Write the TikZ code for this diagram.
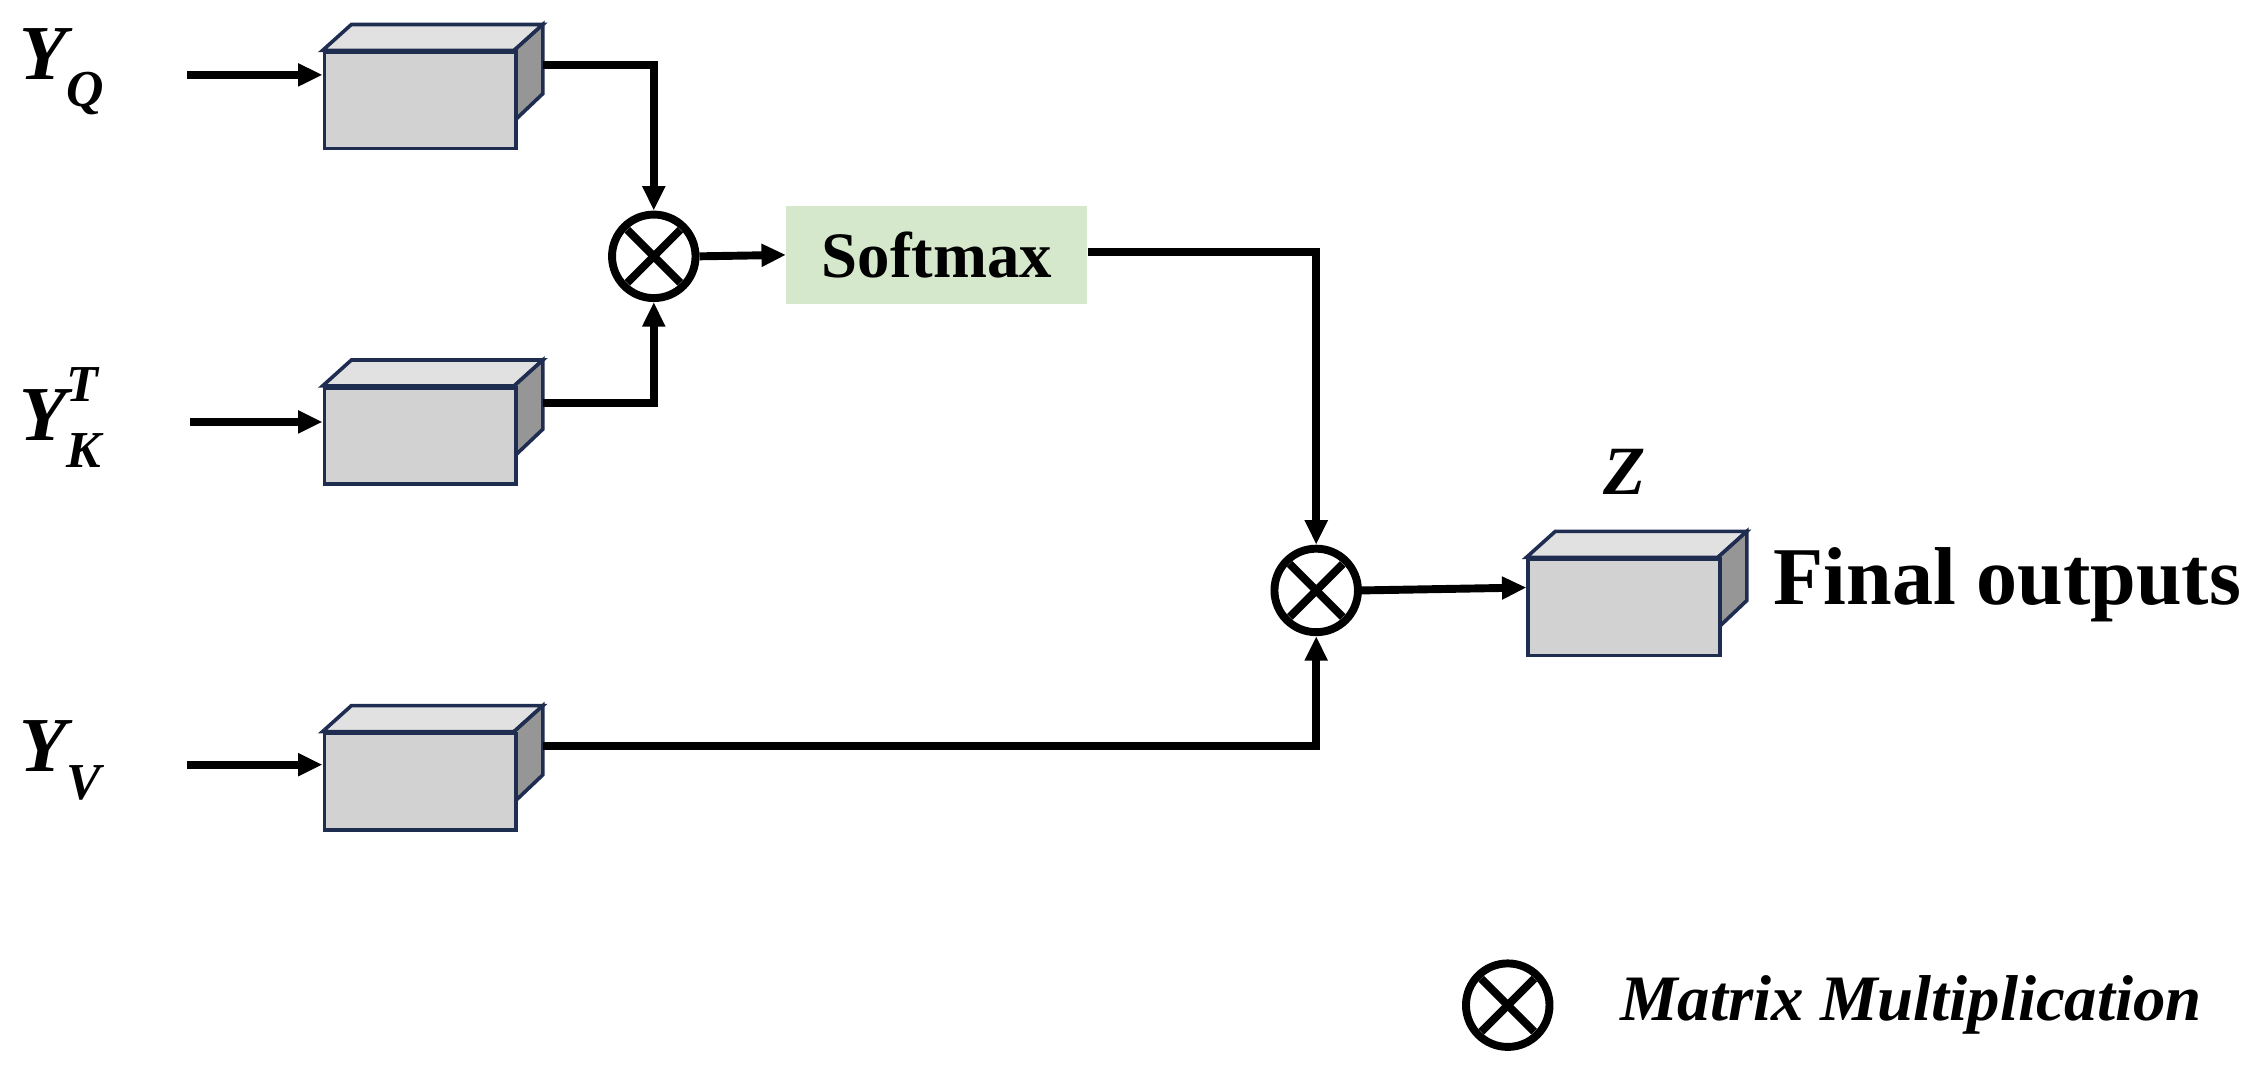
\documentclass[tikz,border=0pt]{standalone}
\usepackage{fontspec}
\setmainfont{Liberation Serif}
\usetikzlibrary{arrows.meta}
\begin{document}
\begin{tikzpicture}[x=1pt,y=-1pt,
  conn/.style={line width=5.5pt,-{Triangle[length=17pt,width=15pt]}},
  mul/.style={circle,draw,line width=5.5pt,minimum size=58pt,inner sep=0pt},
  lbl/.style={font=\fontsize{54}{58}\selectfont\bfseries\itshape}]
\useasboundingbox (0,0) rectangle (1568,745);
\newcommand{\cube}[3]{% name, x, y (front top-left)
  \filldraw[draw={rgb,255:red,31;green,45;blue,80},line width=2.5pt,fill={rgb,255:red,225;green,225;blue,225}]
    (#2,#3) -- ++(20,-18) -- ++(133,0) -- ++(-20,18) -- cycle;
  \filldraw[draw={rgb,255:red,31;green,45;blue,80},line width=2.5pt,fill={rgb,255:red,150;green,150;blue,150}]
    (#2+133,#3) -- ++(20,-18) -- ++(0,48) -- ++(-20,19) -- cycle;
  \node[draw={rgb,255:red,31;green,45;blue,80},line width=2.5pt,fill={rgb,255:red,210;green,210;blue,210},
    minimum width=133pt,minimum height=67pt,inner sep=0pt,anchor=north west] (#1) at (#2,#3) {};}
\newcommand{\crossin}[1]{%
  \draw[line width=5.5pt] ([shift={(45:26)}]#1.center) -- ([shift={(225:26)}]#1.center);
  \draw[line width=5.5pt] ([shift={(135:26)}]#1.center) -- ([shift={(315:26)}]#1.center);}
\cube{b1}{224}{35}
\cube{b2}{224}{268}
\cube{b3}{224}{508}
\cube{bz}{1060}{387}
\node[mul] (m1) at (454,178) {};
\node[mul] (m2) at (914,410) {};
\node[mul] (m3) at (1047,698) {};
\begin{scope}
\clip (m1) circle (27); \crossin{m1}
\end{scope}
\begin{scope}
\clip (m2) circle (27); \crossin{m2}
\end{scope}
\begin{scope}
\clip (m3) circle (27); \crossin{m3}
\end{scope}
\node[fill={rgb,255:red,213;green,232;blue,204},minimum width=209pt,minimum height=68pt,
  font=\fontsize{45}{48}\selectfont\bfseries] (sm) at (650.5,177) {Softmax};
\coordinate (i1) at (130,52); \coordinate (i2) at (132,293); \coordinate (i3) at (130,531);
\draw[conn] (i1) -- (b1.west|-i1);
\draw[conn] (i2) -- (b2.west|-i2);
\draw[conn] (i3) -- (b3.west|-i3);
\draw[conn] (377,45) -| (m1.north);
\draw[conn] (377,280) -| (m1.south);
\draw[conn] (m1.east) -- (sm.west);
\draw[conn] (sm.east|-0,175) -| (m2.north);
\draw[conn] (377,518) -| (m2.south);
\draw[conn] (m2.east) -- (bz.west|-0,408);
\node[lbl,anchor=west] (yq) at (10,50) {Y\raisebox{-0.35em}{\fontsize{36}{38}\selectfont Q}};
\node[lbl,anchor=west] (yk) at (10,290) {Y\rlap{\raisebox{-0.35em}{\fontsize{36}{38}\selectfont K}}\raisebox{0.5em}{\fontsize{36}{38}\selectfont T}};
\node[lbl,anchor=west] (yv) at (10,528) {Y\raisebox{-0.35em}{\fontsize{36}{38}\selectfont V}};
\node[font=\fontsize{48}{52}\selectfont\bfseries\itshape] (z) at (1128,328) {Z};
\node[font=\fontsize{57}{60}\selectfont\bfseries] (fo) at (1394,406) {Final outputs};
\node[font=\fontsize{45}{48}\selectfont\bfseries\itshape] (mm) at (1327,698) {Matrix Multiplication};
\end{tikzpicture}
\end{document}
